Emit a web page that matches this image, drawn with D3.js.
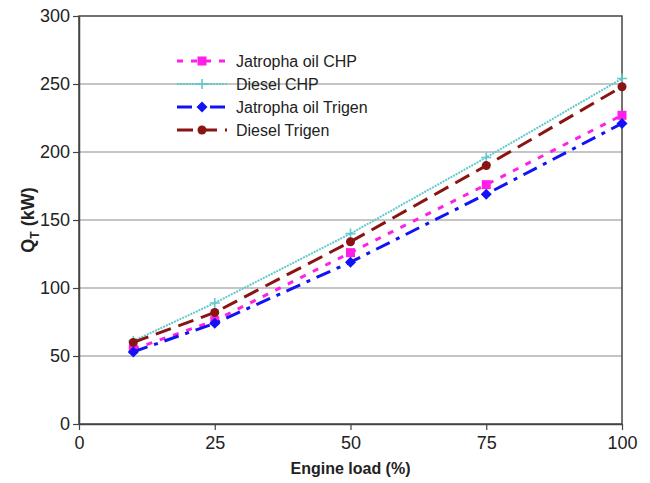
<!DOCTYPE html>
<html>
<head>
<meta charset="utf-8">
<script src="https://cdn.jsdelivr.net/npm/d3@7"></script>
<style>
  body { margin: 0; background: #fff; }
  text { font-family: "Liberation Sans", Arial, sans-serif; fill: #222; }
</style>
</head>
<body>
<svg id="chart" width="650" height="483"></svg>
<script>
const loads = [10, 25, 50, 75, 100];
const jatrophaChp = [55, 76, 126, 176, 227];
const dieselChp = [61, 89, 140, 196, 254];
const jatrophaTrigen = [53, 74, 119, 169, 221];
const dieselTrigen = [60, 82, 134, 190, 248];

const xTicks = [0, 25, 50, 75, 100];
const yTicks = [0, 50, 100, 150, 200, 250, 300];

const seriesNames = ['Jatropha oil CHP', 'Diesel CHP', 'Jatropha oil Trigen', 'Diesel Trigen'];
const seriesValues = [jatrophaChp, dieselChp, jatrophaTrigen, dieselTrigen];

const STYLE = [
  { color: '#ff1fe6', width: 3, dash: '6,8', marker: 'square' },
  { color: '#62c8cc', width: 2, dash: '2,1', marker: 'plus' },
  { color: '#1212f5', width: 3, dash: '15,7,4,7', marker: 'diamond' },
  { color: '#8a1414', width: 3, dash: '16,8', marker: 'circle' }
];

const M = { left: 79, top: 16, right: 28, bottom: 59 };
const W = 650 - M.left - M.right;
const H = 483 - M.top - M.bottom;

const x = d3.scaleLinear().domain([0, 100]).range([0, W]);
const y = d3.scaleLinear().domain([0, 300]).range([H, 0]);

const svg = d3.select('#chart');
const g = svg.append('g').attr('transform', `translate(${M.left},${M.top})`);

// grid
g.selectAll('.grid')
  .data(yTicks.filter(d => d > 0 && d < 300))
  .enter()
  .append('line')
  .attr('x1', 0).attr('x2', W)
  .attr('y1', d => y(d)).attr('y2', d => y(d))
  .attr('stroke', '#8c8c8c').attr('stroke-width', 1.2);

// box
g.append('rect')
  .attr('width', W).attr('height', H)
  .attr('fill', 'none').attr('stroke', '#444').attr('stroke-width', 1.5);

const xAxis = g.append('g')
  .attr('transform', `translate(0,${H})`)
  .call(d3.axisBottom(x).tickValues(xTicks).tickSize(6).tickSizeOuter(0).tickPadding(6));
const yAxis = g.append('g')
  .call(d3.axisLeft(y).tickValues(yTicks).tickSize(6).tickSizeOuter(0).tickPadding(3));

[xAxis, yAxis].forEach(a => {
  a.select('.domain').attr('stroke', '#444').attr('stroke-width', 1.5);
  a.selectAll('.tick line').attr('stroke', '#444').attr('stroke-width', 1.2);
  a.selectAll('.tick text')
    .attr('font-size', 18)
    .attr('font-family', '"Liberation Sans", Arial, sans-serif')
    .attr('fill', '#222');
});

// titles
svg.append('text')
  .attr('x', M.left + W / 2).attr('y', 474)
  .attr('text-anchor', 'middle')
  .attr('font-size', 16).attr('font-weight', 'bold')
  .text('Engine load (%)');

const yt = svg.append('text')
  .attr('transform', `translate(34,${M.top + H / 2}) rotate(-90)`)
  .attr('text-anchor', 'middle')
  .attr('font-size', 18).attr('font-weight', 'bold');
yt.append('tspan').text('Q');
yt.append('tspan').attr('font-size', 12).attr('dy', 5).text('T');
yt.append('tspan').attr('dy', -5).text(' (kW)');

const line = d3.line().x(d => x(d[0])).y(d => y(d[1]));

function drawMarker(sel, type, color, cx, cy) {
  if (type === 'square') {
    sel.append('rect').attr('x', cx - 4.5).attr('y', cy - 4.5)
      .attr('width', 9).attr('height', 9).attr('fill', color);
  } else if (type === 'circle') {
    sel.append('circle').attr('cx', cx).attr('cy', cy).attr('r', 4.5).attr('fill', color);
  } else if (type === 'diamond') {
    sel.append('path')
      .attr('d', `M${cx},${cy - 5.5}L${cx + 5.5},${cy}L${cx},${cy + 5.5}L${cx - 5.5},${cy}Z`)
      .attr('fill', color);
  } else if (type === 'plus') {
    sel.append('path')
      .attr('d', `M${cx - 5},${cy}H${cx + 5}M${cx},${cy - 5}V${cy + 5}`)
      .attr('stroke', color).attr('stroke-width', 1.6).attr('fill', 'none');
  }
}

seriesValues.forEach((vals, i) => {
  const s = STYLE[i];
  const pts = loads.map((l, j) => [l, vals[j]]);
  g.append('path')
    .datum(pts)
    .attr('d', line)
    .attr('fill', 'none')
    .attr('stroke', s.color)
    .attr('stroke-width', s.width)
    .attr('stroke-dasharray', s.dash);
  const mg = g.append('g');
  pts.forEach(p => drawMarker(mg, s.marker, s.color, x(p[0]), y(p[1])));
});

// legend
const legend = svg.append('g').attr('transform', 'translate(177,61)');
seriesNames.forEach((name, i) => {
  const s = STYLE[i];
  const row = legend.append('g').attr('transform', `translate(0,${i * 23})`);
  row.append('line')
    .attr('x1', 0).attr('x2', 50).attr('y1', 0).attr('y2', 0)
    .attr('stroke', s.color).attr('stroke-width', s.width)
    .attr('stroke-dasharray', s.dash);
  drawMarker(row, s.marker, s.color, 25, 0);
  row.append('text')
    .attr('x', 59).attr('y', 5.5)
    .attr('font-size', 16)
    .text(name);
});
</script>
</body>
</html>
